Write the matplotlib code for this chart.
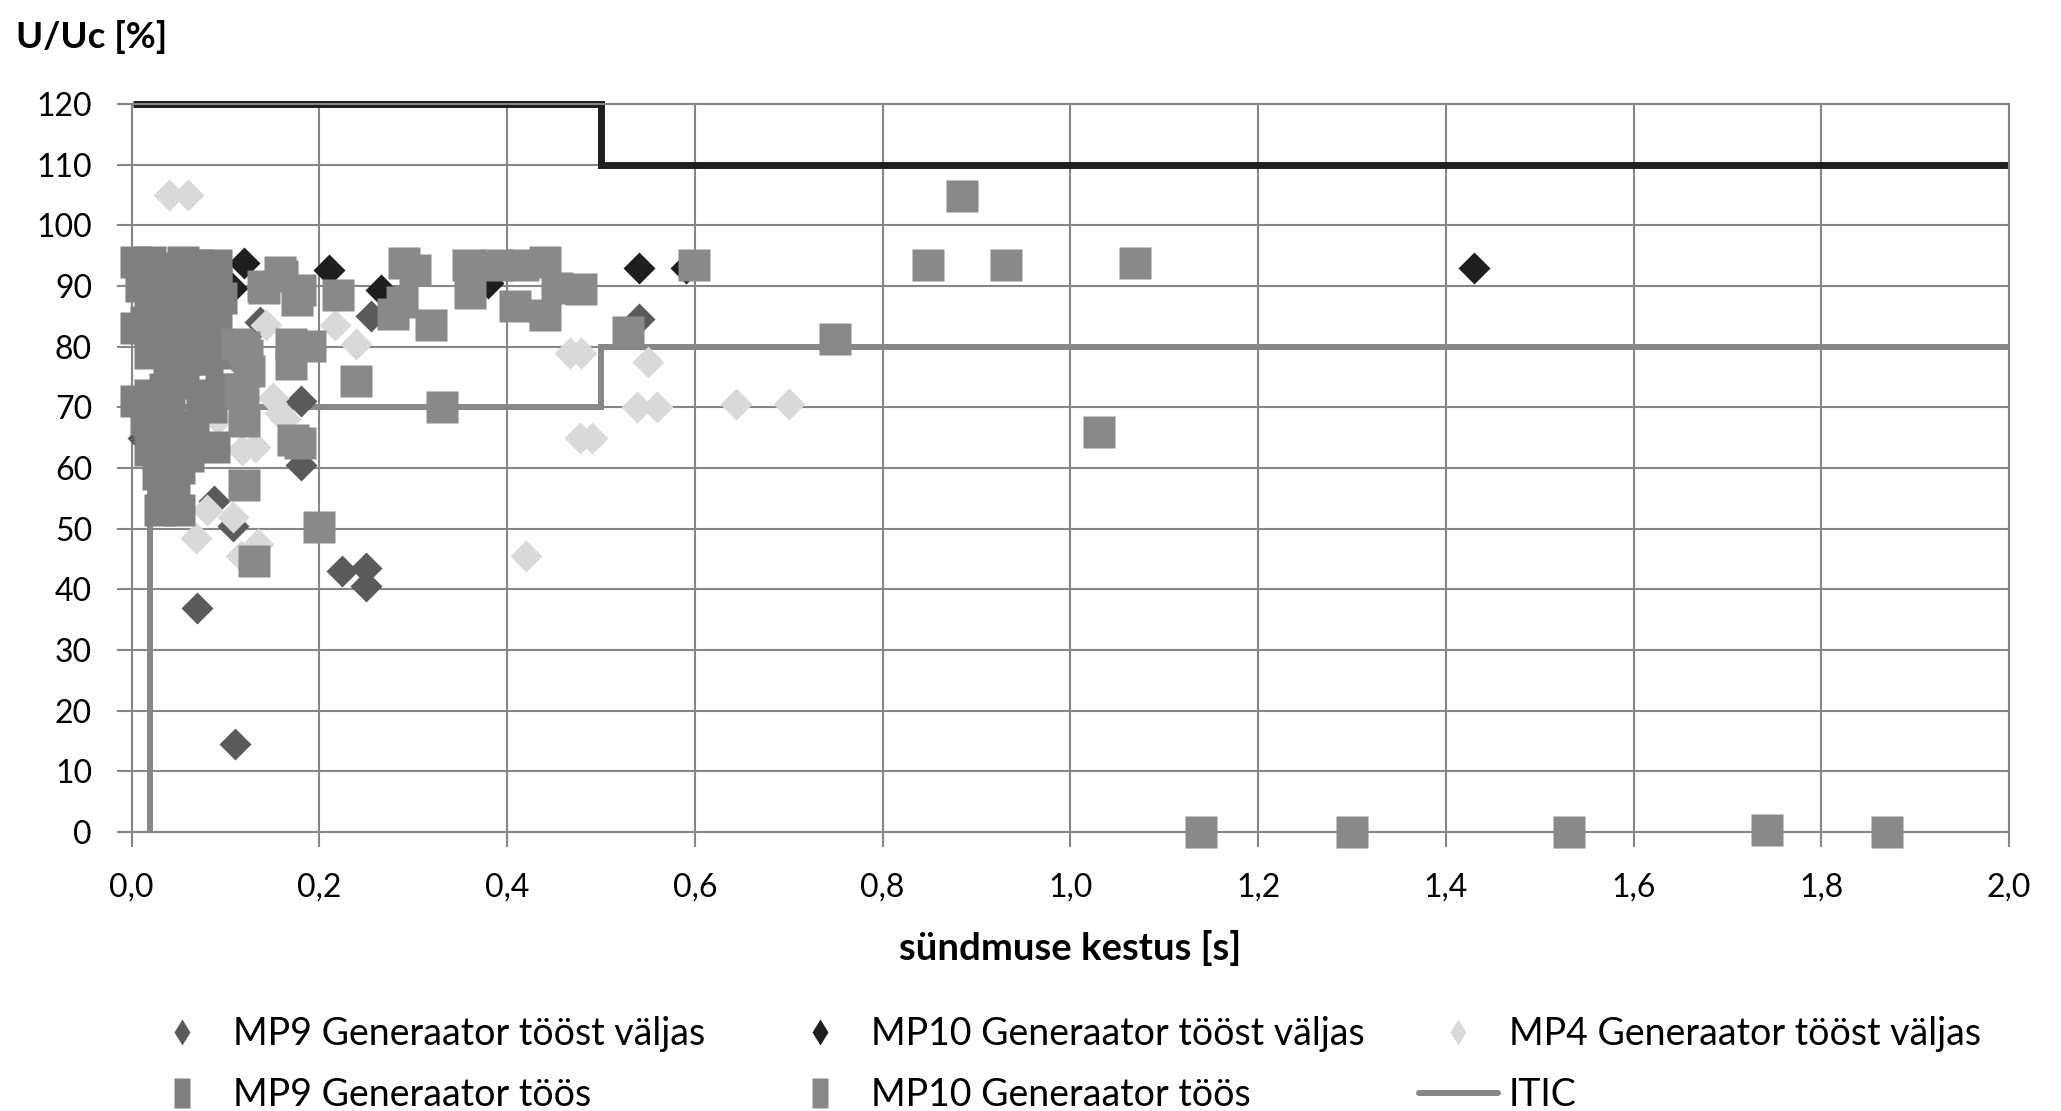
import matplotlib
matplotlib.use("Agg")
import matplotlib.pyplot as plt
from matplotlib.lines import Line2D

plt.rcParams['font.family'] = ['Lato', 'DejaVu Sans']

# MP9 / MP10 / MP4, generaator töös väljas (rombid)
mp9_off_x = [0.012, 0.07, 0.088, 0.108, 0.11, 0.137, 0.18, 0.18, 0.224, 0.25, 0.25, 0.255, 0.54]
mp9_off_y = [65, 37, 54.5, 50.5, 14.5, 84, 71, 60.5, 43, 43.5, 40.5, 85, 84.5]

mp10_off_x = [0.107, 0.12, 0.21, 0.266, 0.38, 0.54, 0.59, 1.43]
mp10_off_y = [89.7, 93.8, 92.7, 89.3, 90.5, 93, 93, 93]

mp4_off_x = [0.04, 0.06, 0.068, 0.08, 0.092, 0.108, 0.116, 0.117, 0.131, 0.135, 0.143,
             0.15, 0.158, 0.163, 0.217, 0.239, 0.42, 0.467, 0.479, 0.478, 0.49, 0.538,
             0.55, 0.56, 0.644, 0.70]
mp4_off_y = [105, 105, 48.5, 53, 68, 52, 45.5, 63, 63.5, 47.5, 83.5,
             71.5, 69, 68, 83.5, 80.5, 45.5, 79, 79, 65, 65, 70,
             77.5, 70, 70.5, 70.5]

# generaator töös (ruudud)
mp9_on_x = [0.005, 0.02, 0.035, 0.055, 0.07, 0.09,
            0.01, 0.03, 0.05, 0.075, 0.09,
            0.02, 0.04, 0.06, 0.08, 0.095,
            0.005, 0.015, 0.035, 0.055, 0.075, 0.09,
            0.02, 0.04, 0.06, 0.08, 0.10,
            0.005, 0.02, 0.035, 0.055, 0.075, 0.095,
            0.015, 0.04, 0.065, 0.085,
            0.02, 0.04, 0.06, 0.088,
            0.028, 0.045, 0.05,
            0.035, 0.05, 0.03]
mp9_on_y = [94, 94, 93, 94, 93.5, 93.5,
            90, 91, 90, 91, 90.5,
            87, 86, 87, 86.5, 88,
            83, 84, 82, 83, 82, 84,
            79, 77, 78, 78, 79,
            71, 72, 73, 74, 72, 73,
            68, 69, 67, 70,
            63, 64, 62, 63.5,
            59, 58, 60,
            54, 53, 53]

mp10_on_x = [0.112, 0.12, 0.123, 0.125, 0.119, 0.115, 0.12, 0.12, 0.13,
             0.141, 0.14, 0.16, 0.158, 0.176, 0.179, 0.22, 0.19, 0.17, 0.17, 0.239,
             0.2, 0.172, 0.179,
             0.29, 0.302, 0.278, 0.288, 0.319, 0.331,
             0.358, 0.389, 0.417, 0.44, 0.36, 0.408, 0.44, 0.453, 0.479, 0.529,
             0.599, 0.749, 0.848, 0.8845, 0.931, 1.03, 1.069,
             1.139, 1.30, 1.531, 1.742, 1.87]
mp10_on_y = [80.4, 80, 78.6, 76, 73, 72.5, 67.7, 57.2, 44.6,
             89.7, 90, 91.6, 92.3, 87.7, 89.3, 88.5, 80.1, 77.1, 80.4, 74.3,
             50.3, 64.6, 64.1,
             93.8, 92.6, 85.4, 87.4, 83.6, 70.1,
             93.5, 93.5, 93.5, 94, 88.8, 86.7, 85.2, 89.7, 89.5, 82.5,
             93.4, 81.2, 93.4, 104.8, 93.4, 66, 93.8,
             0, 0, 0, 0.3, 0]

# ITIC piirid
itic_x = [0.02, 0.02, 0.5, 0.5, 2.0]
itic_y = [0, 70, 70, 80, 80]
upper_x = [0.001, 0.5, 0.5, 2.0]
upper_y = [120, 120, 110, 110]

x_ticks = [0.0, 0.2, 0.4, 0.6, 0.8, 1.0, 1.2, 1.4, 1.6, 1.8, 2.0]
x_tick_labels = ['0,0', '0,2', '0,4', '0,6', '0,8', '1,0', '1,2', '1,4', '1,6', '1,8', '2,0']
y_ticks = [0, 10, 20, 30, 40, 50, 60, 70, 80, 90, 100, 110, 120]

grid_c = '#868686'
c_mp9d, c_mp10d, c_mp4d = '#5a5a5a', '#1e1e1e', '#d9d9d9'
c_mp9s, c_mp10s = '#7f7f7f', '#898989'
c_itic = '#878787'

fig = plt.figure(figsize=(20.61, 11.11), dpi=100)
ax = fig.add_axes([0.0639, 0.2511, 0.9109, 0.6553])

ax.plot(upper_x, upper_y, color='#1e1e1e', lw=5, solid_joinstyle='miter',
        solid_capstyle='butt', clip_on=False, zorder=2)
ax.plot(itic_x, itic_y, color=c_itic, lw=4.3, solid_joinstyle='miter',
        solid_capstyle='butt', clip_on=False, zorder=2)

dms = 16
sms = 23
ax.plot(mp9_off_x, mp9_off_y, 'D', ms=dms, color=c_mp9d, mec='none', clip_on=False, zorder=3)
ax.plot(mp10_off_x, mp10_off_y, 'D', ms=dms, color=c_mp10d, mec='none', clip_on=False, zorder=3)
ax.plot(mp4_off_x, mp4_off_y, 'D', ms=dms, color=c_mp4d, mec='none', clip_on=False, zorder=3)
ax.plot(mp9_on_x, mp9_on_y, 's', ms=sms, color=c_mp9s, mec='none', clip_on=False, zorder=4)
ax.plot(mp10_on_x, mp10_on_y, 's', ms=sms, color=c_mp10s, mec='none', clip_on=False, zorder=4)

ax.set_xlim(0, 2)
ax.set_ylim(0, 120)
ax.set_xticks(x_ticks)
ax.set_xticklabels(x_tick_labels)
ax.set_yticks(y_ticks)
ax.grid(True, color=grid_c, lw=1.5)
ax.set_axisbelow(True)
for s in ax.spines.values():
    s.set_color(grid_c)
    s.set_linewidth(1.5)
ax.tick_params(axis='both', length=10.5, width=1.5, color=grid_c, labelsize=23)
ax.tick_params(axis='x', pad=19)
ax.tick_params(axis='y', pad=18)

fig.text(16 / 2061, 1 - 37 / 1111, 'U/Uc [%]', fontsize=26.5, fontweight='bold',
         ha='left', va='center')
fig.text(1070 / 2061, 1 - 948 / 1111, 'sündmuse kestus [s]', fontsize=27.5,
         fontweight='bold', ha='center', va='center')

# legend: kolm veergu, igaühes kaks rida
tall_sq = [(-0.27, -0.5), (0.27, -0.5), (0.27, 0.5), (-0.27, 0.5)]
h_mp9d = Line2D([], [], ls='none', marker='d', ms=13.7, color=c_mp9d, mec='none')
h_mp10d = Line2D([], [], ls='none', marker='d', ms=13.7, color=c_mp10d, mec='none')
h_mp4d = Line2D([], [], ls='none', marker='d', ms=13.7, color=c_mp4d, mec='none')
h_mp9s = Line2D([], [], ls='none', marker=tall_sq, ms=21.6, color=c_mp9s, mec='none')
h_mp10s = Line2D([], [], ls='none', marker=tall_sq, ms=21.6, color=c_mp10s, mec='none')
h_itic = Line2D([], [], color=c_itic, lw=4.3, solid_capstyle='round')

columns = [
    (143, [h_mp9d, h_mp9s], ['MP9 Generaator tööst väljas', 'MP9 Generaator töös']),
    (781, [h_mp10d, h_mp10s], ['MP10 Generaator tööst väljas', 'MP10 Generaator töös']),
    (1419, [h_mp4d, h_itic], ['MP4 Generaator tööst väljas', 'ITIC']),
]
for x0, hs, labs in columns:
    fig.legend(hs, labs, loc='center left', bbox_to_anchor=(x0 / 2061, 1 - 1064.5 / 1111),
               frameon=False, fontsize=27, handlelength=2.1, handletextpad=0.3,
               labelspacing=0.66, borderpad=0, borderaxespad=0)

fig.savefig('out.png', dpi=100)
